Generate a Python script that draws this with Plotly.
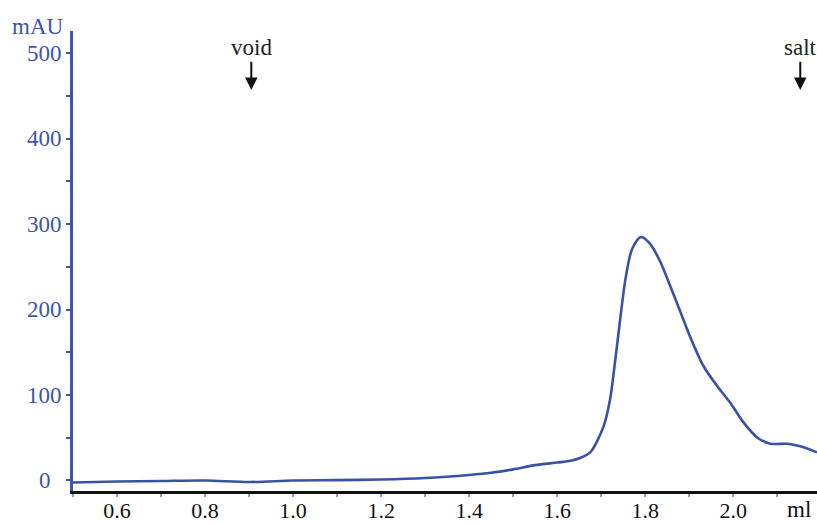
import plotly.graph_objects as go

# Elution volume (ml) and absorbance (mAU) of the chromatogram trace
volume_ml = [0.5, 0.6, 0.7, 0.8, 0.9, 1.0, 1.1, 1.2, 1.3, 1.4, 1.45, 1.5, 1.55, 1.6,
             1.63, 1.65, 1.675, 1.705, 1.72, 1.732, 1.743, 1.755, 1.77, 1.79, 1.811,
             1.834, 1.857, 1.88, 1.902, 1.932, 1.964, 1.993, 2.023, 2.055, 2.084,
             2.123, 2.152, 2.19]
absorbance_mau = [-2.3, -1.2, -0.6, 0, -1.8, 0, 0.4, 1.2, 3, 6.5, 9, 13, 18, 21,
                  23, 26, 33, 63, 95, 142, 189, 236, 271, 285, 277,
                  256, 227, 197, 168, 134, 110, 91, 68, 50, 43,
                  43, 40, 33]

# Event markers shown above the trace
marker_names = ["void", "salt"]
marker_volumes = [0.905, 2.152]

y_ticks = [0, 100, 200, 300, 400, 500]
x_ticks = [0.6, 0.8, 1.0, 1.2, 1.4, 1.6, 1.8, 2.0]

BLUE = "#3d55aa"
LINE = "#3a52a6"
FONT = "'Liberation Serif', 'Times New Roman', 'DejaVu Serif', serif"

fig = go.Figure()
fig.add_trace(go.Scatter(
    x=volume_ml, y=absorbance_mau, mode="lines",
    line=dict(color=LINE, width=2.6, shape="spline", smoothing=0.8),
    hoverinfo="skip", showlegend=False,
))

for name, vol in zip(marker_names, marker_volumes):
    fig.add_annotation(
        x=vol, y=1, xref="x", yref="paper", yanchor="middle",
        text=name, showarrow=False, yshift=-16,
        font=dict(family=FONT, size=23, color="#222222"),
    )
    fig.add_annotation(
        x=vol, y=457, xref="x", yref="y",
        ax=vol, ay=492, axref="x", ayref="y",
        text="", showarrow=True, arrowhead=2, arrowsize=1.25, arrowwidth=2,
        arrowcolor="#111111",
    )

# Value labels of the absorbance axis, centred in the left margin
for v in y_ticks:
    fig.add_annotation(
        x=0, y=v, xref="paper", yref="y", xanchor="center", yanchor="middle",
        text=str(v), showarrow=False, xshift=-28.5,
        font=dict(family=FONT, size=23, color=BLUE),
    )

fig.add_annotation(
    x=0, y=1, xref="paper", yref="paper", xanchor="center", yanchor="middle",
    text="mAU", showarrow=False, xshift=-35.5, yshift=5,
    font=dict(family=FONT, size=23, color=BLUE),
)
fig.add_annotation(
    x=2.148, y=0, xref="x", yref="paper", yanchor="middle",
    text="ml", showarrow=False, yshift=-18,
    font=dict(family=FONT, size=23, color="#111111"),
)

fig.update_layout(
    width=817, height=524,
    margin=dict(l=73, r=0, t=31, b=33),
    plot_bgcolor="white", paper_bgcolor="white",
    font=dict(family=FONT, size=22),
)
fig.update_xaxes(
    range=[0.5, 2.19], tickvals=x_ticks, tickformat=".1f",
    automargin=False,
    showgrid=False, zeroline=False,
    showline=True, linecolor="#111111", linewidth=2.5,
    ticks="outside", ticklen=3, tickwidth=2, tickcolor="#999999",
    minor=dict(dtick=0.1, tick0=0.5, ticks="outside", ticklen=3, tickwidth=2, tickcolor="#999999"),
    tickfont=dict(family=FONT, size=22, color="#111111"),
    ticklabelstandoff=-5,
)
fig.update_yaxes(
    range=[-12.3, 526.1], tickvals=y_ticks, showticklabels=False,
    automargin=False,
    showgrid=False, zeroline=False,
    showline=True, linecolor=BLUE, linewidth=2.5,
    ticks="outside", ticklen=4, tickwidth=2, tickcolor=BLUE,
    minor=dict(dtick=50, tick0=0, ticks="outside", ticklen=4, tickwidth=2, tickcolor=BLUE),
)

fig.write_html("out.html")
